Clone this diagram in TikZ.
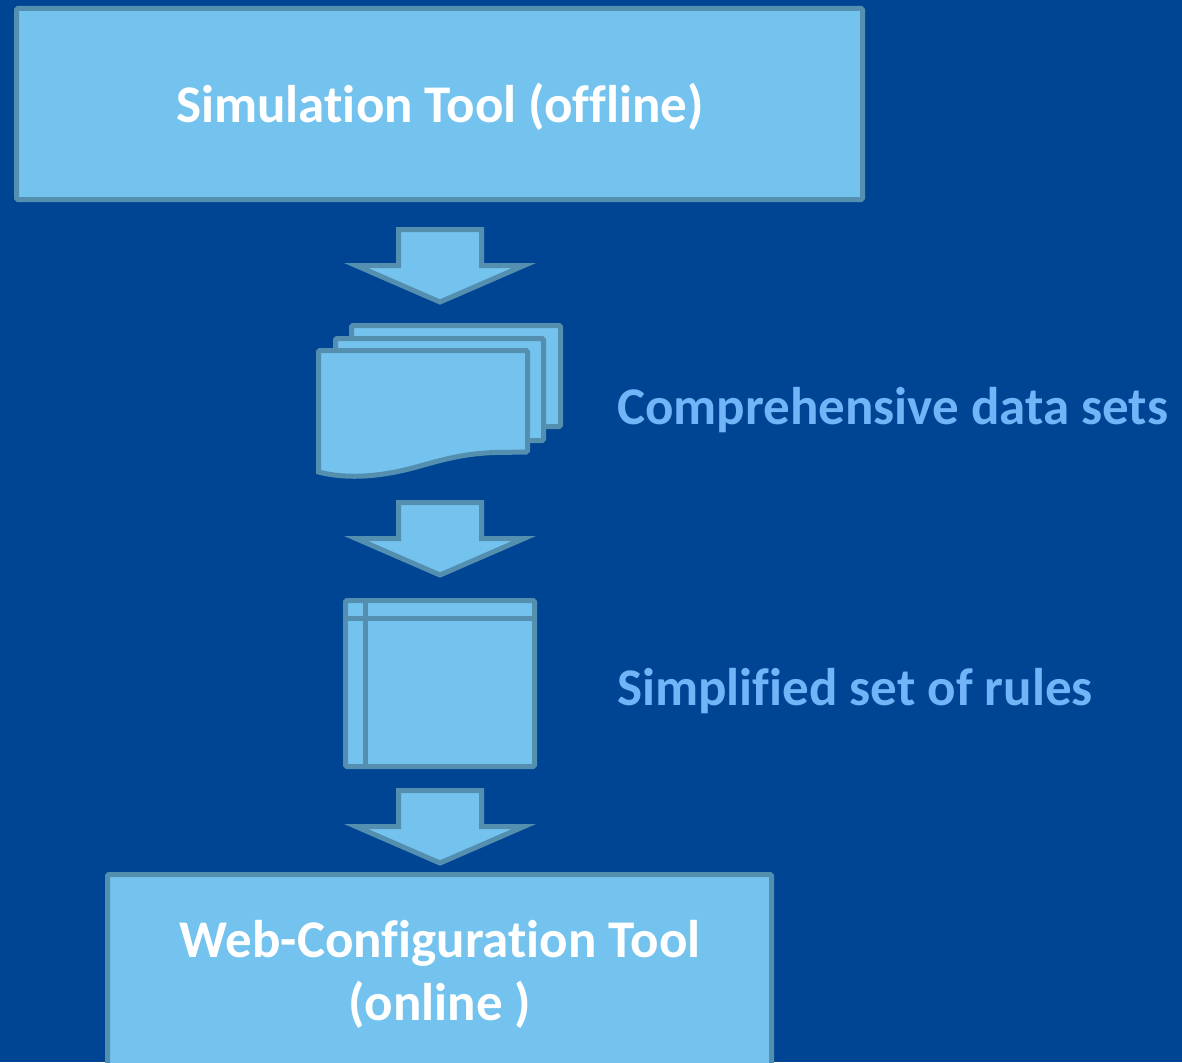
\documentclass[tikz,border=0pt]{standalone}
\usepackage{fontspec}
\setmainfont{Carlito}[Ligatures=NoCommon]
\definecolor{bg}{RGB}{0,69,148}
\definecolor{boxfill}{RGB}{115,195,238}
\definecolor{boxline}{RGB}{84,143,175}
\definecolor{labeltext}{RGB}{114,180,248}
\begin{document}
\begin{tikzpicture}[x=1pt,y=-1pt,
  solid shape/.style={fill=boxfill,draw=boxline,line width=5pt,line join=miter},
  plainbox/.style={solid shape,rectangle,rounded corners=1.5pt,inner sep=0pt},
  boxtext/.style={text=white,font=\bfseries\fontsize{53}{63}\selectfont,inner sep=0pt,anchor=base},
  side/.style={text=labeltext,font=\bfseries\fontsize{53}{63}\selectfont,inner sep=0pt,anchor=base west},
  blockarrow/.pic={\path[solid shape] (-41.5,0) -- (41.5,0) -- (41.5,36) -- (84,36) -- (0,72.5) -- (-84,36) -- (-41.5,36) -- cycle;}]
\fill[bg] (0,0) rectangle (1182,1062);
\useasboundingbox (0,0) rectangle (1182,1062);
\clip (0,0) rectangle (1182,1062);
% top box
\node[plainbox, minimum width=846pt, minimum height=191pt] (sim) at (439.5,104) {};
\node[boxtext] (simtext) at (440,122) {Simulation Tool (offline)};
% arrows
\pic at (440,229.5) {blockarrow};
\pic at (440,502.5) {blockarrow};
\pic at (440,790.5) {blockarrow};
% document stack
\path[solid shape, rounded corners=1.5pt] (351.5,325.5) rectangle (560.5,426.5);
\path[solid shape, rounded corners=1.5pt] (335.5,338.5) rectangle (543.5,440.5);
\path[solid shape, rounded corners=1.5pt] (318.5,350.5) -- (527.5,350.5) -- (527.5,452)
   [sharp corners] -- (495,452.5) .. controls (465,453.5) and (445,459) .. (420,466)
   .. controls (385,476) and (350,480) .. (318.5,472) [rounded corners=1.5pt] -- cycle;
\node[side] (datatext) at (617,424) {Comprehensive data sets};
% rules box
\node[plainbox, minimum width=189pt, minimum height=166pt] (rules) at (440,683.5) {};
\draw[boxline, line width=5pt] ([xshift=22.5pt]rules.north west) -- ([xshift=22.5pt]rules.south west);
\draw[boxline, line width=5pt] ([yshift=-20.5pt]rules.north west) -- ([yshift=-20.5pt]rules.north east);
\node[side] (rulestext) at (617,705) {Simplified set of rules};
% bottom box
\node[plainbox, minimum width=664pt, minimum height=226pt] (web) at (439.5,987.5) {};
\node[boxtext] (webtext1) at (440,957) {Web-Configuration Tool};
\node[boxtext] (webtext2) at (440,1020) {(online )};
\end{tikzpicture}
\end{document}
